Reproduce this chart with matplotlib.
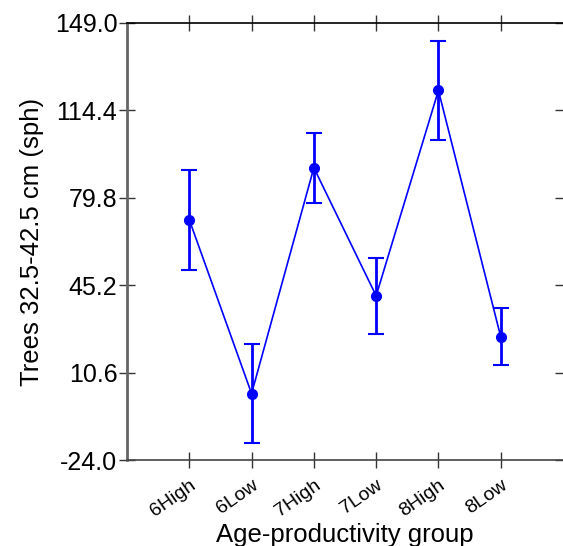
import matplotlib.pyplot as plt
import numpy as np

plt.rcParams['font.family'] = ['Liberation Sans', 'DejaVu Sans']

# Data
groups = ['6High', '6Low', '7High', '7Low', '8High', '8Low']
means = [71.1, 2.3, 91.7, 41.0, 122.3, 24.8]
errors = [19.7, 19.7, 13.8, 15.0, 19.7, 11.3]
yticks = [-24.0, 10.6, 45.2, 79.8, 114.4, 149.0]

fig = plt.figure(figsize=(5.63, 5.46), dpi=100)
ax = fig.add_axes([127 / 563, 1 - 460 / 546, (563 - 127) / 563, (460 - 23) / 546])

x = np.arange(1, len(groups) + 1)
ax.plot(x, means, color='#0000ff', lw=1.2, zorder=2)
ax.errorbar(x, means, yerr=errors, fmt='o', color='#0000ff', ms=7,
            elinewidth=2, capsize=6, capthick=1.5, zorder=3)

ax.set_xlim(0, 7)
ax.set_ylim(-24, 149)
ax.set_yticks(yticks)
ax.set_yticklabels([f'{v:.1f}' for v in yticks], fontsize=18)
ax.set_xticks(x)
ax.set_xticklabels(groups, fontsize=14, rotation=35, ha='right',
                   rotation_mode='anchor')

ax.tick_params(axis='both', direction='inout', length=12, width=1,
               color='#333333', pad=1)
ax.tick_params(axis='x', top=True, pad=6)
ax.tick_params(axis='y', right=True)

ax.spines['left'].set_color('#666666')
ax.spines['left'].set_linewidth(2)
ax.spines['bottom'].set_color('#444444')
ax.spines['bottom'].set_linewidth(1.2)
ax.spines['top'].set_color('black')
ax.spines['top'].set_linewidth(1.2)
ax.spines['right'].set_visible(False)

ax.set_xlabel('Age-productivity group', fontsize=18.5, labelpad=2)
ax.set_ylabel('Trees 32.5-42.5 cm (sph)', fontsize=18.5, labelpad=8)

fig.savefig('out.png', dpi=100)
